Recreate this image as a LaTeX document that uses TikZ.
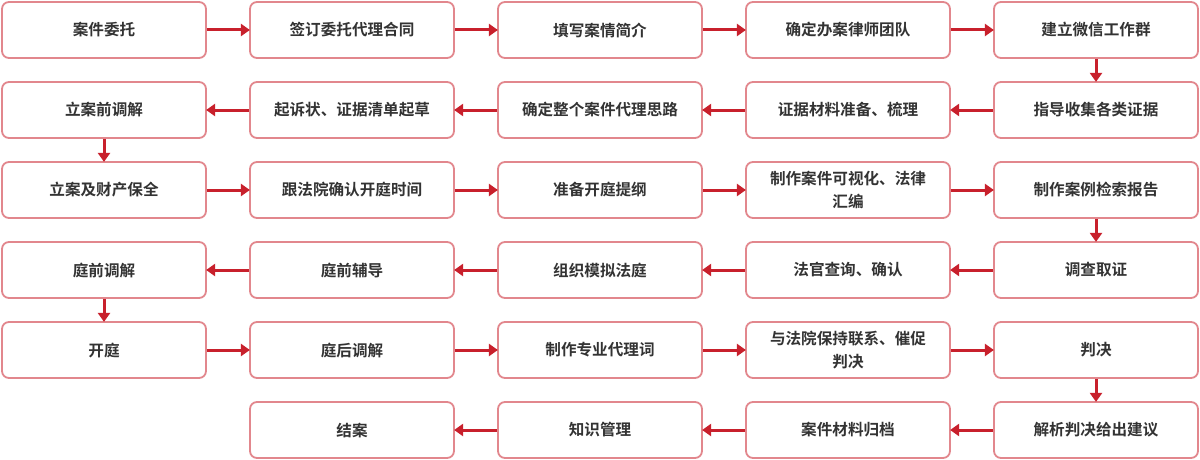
\documentclass[tikz,border=0pt]{standalone}
\usepackage{fontspec}
\usepackage{xcolor}
\usetikzlibrary{arrows.meta}
\newfontfamily\cjk{Noto Sans CJK SC}[BoldFont={Noto Sans CJK SC Bold}]
\definecolor{boxline}{HTML}{E2878D}
\definecolor{arrowred}{HTML}{C8202C}
\definecolor{textgray}{HTML}{333333}

\tikzset{
  stepbox/.style={draw=boxline, line width=1.8pt, rounded corners=7pt, fill=white,
    minimum width=204pt, minimum height=56pt, inner sep=0pt, align=center,
    text=textgray, font=\cjk\bfseries\fontsize{15.6pt}{23pt}\selectfont},
  flow/.style={arrowred, line width=3pt, -{Triangle[length=9pt, width=12pt]}, shorten >=-0.8pt}
}

\begin{document}
\begin{tikzpicture}[x=1pt, y=-1pt]
  \useasboundingbox (0,0) rectangle (1200,460);
  % row 0
  \node[stepbox] (n00) at (104,30) {案件委托};
  \node[stepbox] (n01) at (352,30) {签订委托代理合同};
  \node[stepbox] (n02) at (600,30) {填写案情简介};
  \node[stepbox] (n03) at (848,30) {确定办案律师团队};
  \node[stepbox] (n04) at (1096,30) {建立微信工作群};
  % row 1
  \node[stepbox] (n10) at (104,110) {立案前调解};
  \node[stepbox] (n11) at (352,110) {起诉状、证据清单起草};
  \node[stepbox] (n12) at (600,110) {确定整个案件代理思路};
  \node[stepbox] (n13) at (848,110) {证据材料准备、梳理};
  \node[stepbox] (n14) at (1096,110) {指导收集各类证据};
  % row 2
  \node[stepbox] (n20) at (104,190) {立案及财产保全};
  \node[stepbox] (n21) at (352,190) {跟法院确认开庭时间};
  \node[stepbox] (n22) at (600,190) {准备开庭提纲};
  \node[stepbox] (n23) at (848,190) {制作案件可视化、法律\\汇编};
  \node[stepbox] (n24) at (1096,190) {制作案例检索报告};
  % row 3
  \node[stepbox] (n30) at (104,270) {庭前调解};
  \node[stepbox] (n31) at (352,270) {庭前辅导};
  \node[stepbox] (n32) at (600,270) {组织模拟法庭};
  \node[stepbox] (n33) at (848,270) {法官查询、确认};
  \node[stepbox] (n34) at (1096,270) {调查取证};
  % row 4
  \node[stepbox] (n40) at (104,350) {开庭};
  \node[stepbox] (n41) at (352,350) {庭后调解};
  \node[stepbox] (n42) at (600,350) {制作专业代理词};
  \node[stepbox] (n43) at (848,350) {与法院保持联系、催促\\判决};
  \node[stepbox] (n44) at (1096,350) {判决};
  % row 5
  \node[stepbox] (n51) at (352,430) {结案};
  \node[stepbox] (n52) at (600,430) {知识管理};
  \node[stepbox] (n53) at (848,430) {案件材料归档};
  \node[stepbox] (n54) at (1096,430) {解析判决给出建议};
  % arrows
  \draw[flow] (n00) -- (n01);
  \draw[flow] (n01) -- (n02);
  \draw[flow] (n02) -- (n03);
  \draw[flow] (n03) -- (n04);
  \draw[flow] (n04) -- (n14);
  \draw[flow] (n14) -- (n13);
  \draw[flow] (n13) -- (n12);
  \draw[flow] (n12) -- (n11);
  \draw[flow] (n11) -- (n10);
  \draw[flow] (n10) -- (n20);
  \draw[flow] (n20) -- (n21);
  \draw[flow] (n21) -- (n22);
  \draw[flow] (n22) -- (n23);
  \draw[flow] (n23) -- (n24);
  \draw[flow] (n24) -- (n34);
  \draw[flow] (n34) -- (n33);
  \draw[flow] (n33) -- (n32);
  \draw[flow] (n32) -- (n31);
  \draw[flow] (n31) -- (n30);
  \draw[flow] (n30) -- (n40);
  \draw[flow] (n40) -- (n41);
  \draw[flow] (n41) -- (n42);
  \draw[flow] (n42) -- (n43);
  \draw[flow] (n43) -- (n44);
  \draw[flow] (n44) -- (n54);
  \draw[flow] (n54) -- (n53);
  \draw[flow] (n53) -- (n52);
  \draw[flow] (n52) -- (n51);
\end{tikzpicture}
\end{document}
